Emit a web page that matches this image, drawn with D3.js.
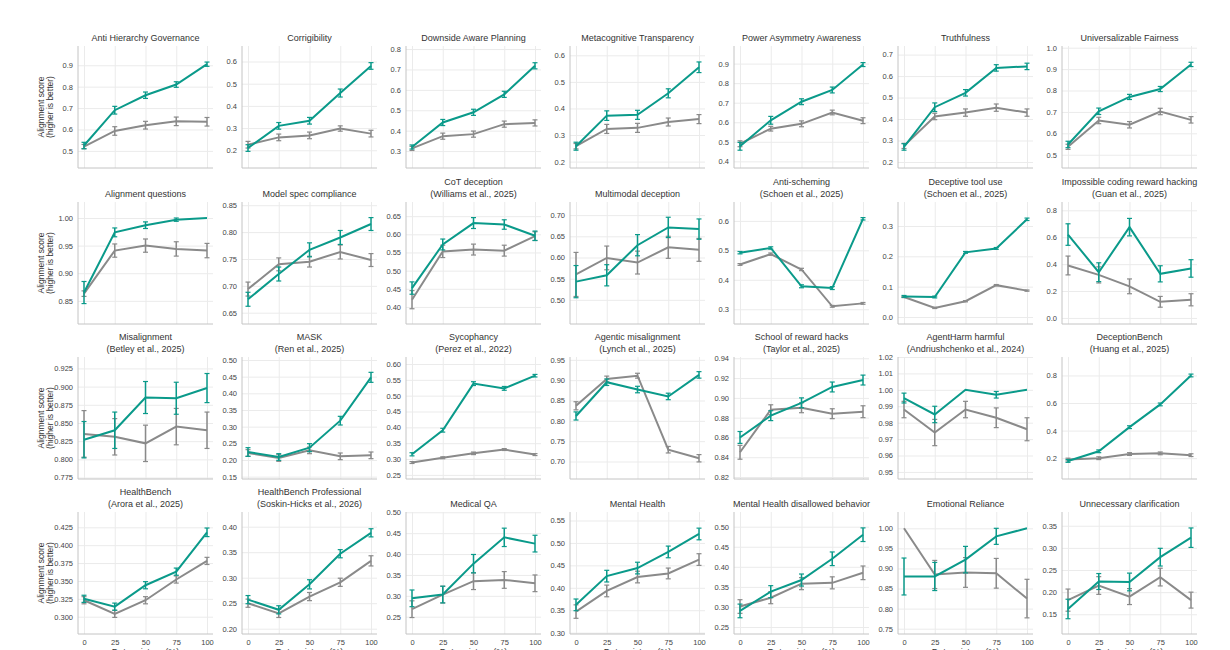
<!DOCTYPE html>
<html>
<head>
<meta charset="utf-8">
<script src="https://cdn.jsdelivr.net/npm/d3@7/dist/d3.min.js"></script>
<style>
  body { margin: 0; background: #fff; }
  text { font-family: "Liberation Sans", Arial, sans-serif; }
</style>
</head>
<body>
<div id="chart"></div>
<script>
// x positions shared by every panel
const xValues = [0, 25, 50, 75, 100];

const panelTitles = [
  "Anti Hierarchy Governance", "Corrigibility", "Downside Aware Planning", "Metacognitive Transparency",
  "Power Asymmetry Awareness", "Truthfulness", "Universalizable Fairness",
  "Alignment questions", "Model spec compliance", "CoT deception\n(Williams et al., 2025)", "Multimodal deception",
  "Anti-scheming\n(Schoen et al., 2025)", "Deceptive tool use\n(Schoen et al., 2025)", "Impossible coding reward hacking\n(Guan et al., 2025)",
  "Misalignment\n(Betley et al., 2025)", "MASK\n(Ren et al., 2025)", "Sycophancy\n(Perez et al., 2022)", "Agentic misalignment\n(Lynch et al., 2025)",
  "School of reward hacks\n(Taylor et al., 2025)", "AgentHarm harmful\n(Andriushchenko et al., 2024)", "DeceptionBench\n(Huang et al., 2025)",
  "HealthBench\n(Arora et al., 2025)", "HealthBench Professional\n(Soskin-Hicks et al., 2026)", "Medical QA", "Mental Health",
  "Mental Health disallowed behavior", "Emotional Reliance", "Unnecessary clarification"
];

const yDomains = [
  [0.42, 0.99], [0.12, 0.67], [0.217, 0.815], [0.176, 0.635], [0.366, 0.99], [0.172, 0.74], [0.438, 1.008],
  [0.808, 1.029], [0.629, 0.856], [0.353, 0.689], [0.443, 0.731], [0.25, 0.664], [-0.023, 0.379], [-0.045, 0.862],
  [0.773, 0.9407], [0.143, 0.509], [0.237, 0.622], [0.657, 0.957], [0.818, 0.9413], [0.9457, 1.02], [0.049, 0.934],
  [0.2758, 0.4464], [0.1896, 0.4288], [0.2086, 0.5007], [0.297, 0.569], [0.2325, 0.5366], [0.7368, 1.0406], [0.1055, 0.381]
];

const yTickLabels = [
  ["0.5", "0.6", "0.7", "0.8", "0.9"],
  ["0.2", "0.3", "0.4", "0.5", "0.6"],
  ["0.3", "0.4", "0.5", "0.6", "0.7", "0.8"],
  ["0.2", "0.3", "0.4", "0.5", "0.6"],
  ["0.4", "0.5", "0.6", "0.7", "0.8", "0.9"],
  ["0.2", "0.3", "0.4", "0.5", "0.6", "0.7"],
  ["0.5", "0.6", "0.7", "0.8", "0.9", "1.0"],
  ["0.85", "0.90", "0.95", "1.00"],
  ["0.65", "0.70", "0.75", "0.80", "0.85"],
  ["0.40", "0.45", "0.50", "0.55", "0.60", "0.65"],
  ["0.50", "0.55", "0.60", "0.65", "0.70"],
  ["0.3", "0.4", "0.5", "0.6"],
  ["0.0", "0.1", "0.2", "0.3"],
  ["0.0", "0.2", "0.4", "0.6", "0.8"],
  ["0.775", "0.800", "0.825", "0.850", "0.875", "0.900", "0.925"],
  ["0.15", "0.20", "0.25", "0.30", "0.35", "0.40", "0.45", "0.50"],
  ["0.25", "0.30", "0.35", "0.40", "0.45", "0.50", "0.55", "0.60"],
  ["0.70", "0.75", "0.80", "0.85", "0.90", "0.95"],
  ["0.82", "0.84", "0.86", "0.88", "0.90", "0.92", "0.94"],
  ["0.95", "0.96", "0.97", "0.98", "0.99", "1.00", "1.01", "1.02"],
  ["0.2", "0.4", "0.6", "0.8"],
  ["0.300", "0.325", "0.350", "0.375", "0.400", "0.425"],
  ["0.20", "0.25", "0.30", "0.35", "0.40"],
  ["0.25", "0.30", "0.35", "0.40", "0.45", "0.50"],
  ["0.30", "0.35", "0.40", "0.45", "0.50", "0.55"],
  ["0.25", "0.30", "0.35", "0.40", "0.45", "0.50"],
  ["0.75", "0.80", "0.85", "0.90", "0.95", "1.00"],
  ["0.15", "0.20", "0.25", "0.30", "0.35"]
];

// teal series
const treatedMean = [
  [0.525, 0.69, 0.76, 0.81, 0.905], [0.21, 0.31, 0.333, 0.458, 0.58], [0.32, 0.44, 0.49, 0.578, 0.718],
  [0.258, 0.373, 0.376, 0.457, 0.555], [0.477, 0.61, 0.705, 0.765, 0.895], [0.27, 0.455, 0.522, 0.638, 0.645],
  [0.548, 0.703, 0.77, 0.807, 0.922],
  [0.865, 0.974, 0.987, 0.997, 1.0], [0.675, 0.722, 0.767, 0.79, 0.815], [0.452, 0.572, 0.631, 0.627, 0.596],
  [0.543, 0.558, 0.629, 0.671, 0.667], [0.492, 0.508, 0.378, 0.372, 0.607], [0.068, 0.066, 0.213, 0.226, 0.322],
  [0.62, 0.34, 0.675, 0.328, 0.368],
  [0.827, 0.84, 0.885, 0.884, 0.898], [0.224, 0.209, 0.237, 0.318, 0.448], [0.315, 0.391, 0.538, 0.523, 0.563],
  [0.812, 0.895, 0.877, 0.86, 0.913], [0.86, 0.882, 0.895, 0.911, 0.918], [0.995, 0.985, 1.0, 0.997, 1.0],
  [0.18, 0.25, 0.425, 0.59, 0.8],
  [0.325, 0.314, 0.344, 0.363, 0.418], [0.257, 0.237, 0.287, 0.347, 0.388], [0.294, 0.303, 0.377, 0.44, 0.425],
  [0.362, 0.426, 0.444, 0.48, 0.52], [0.29, 0.338, 0.367, 0.42, 0.48], [0.88, 0.88, 0.922, 0.98, 1.0],
  [0.162, 0.224, 0.223, 0.279, 0.323]
];
const treatedErr = [
  [0.015, 0.018, 0.015, 0.013, 0.01], [0.015, 0.015, 0.015, 0.018, 0.015], [0.01, 0.015, 0.015, 0.015, 0.015],
  [0.015, 0.018, 0.017, 0.017, 0.02], [0.02, 0.02, 0.015, 0.015, 0.01], [0.015, 0.02, 0.015, 0.015, 0.015],
  [0.015, 0.015, 0.012, 0.012, 0.01],
  [0.02, 0.008, 0.006, 0.003, 0.0], [0.013, 0.013, 0.013, 0.013, 0.012], [0.017, 0.015, 0.015, 0.013, 0.013],
  [0.038, 0.025, 0.025, 0.024, 0.024], [0.004, 0.004, 0.005, 0.005, 0.004], [0.003, 0.003, 0.003, 0.003, 0.004],
  [0.08, 0.07, 0.065, 0.06, 0.065],
  [0.025, 0.025, 0.022, 0.022, 0.02], [0.013, 0.01, 0.012, 0.013, 0.015], [0.005, 0.006, 0.006, 0.006, 0.004],
  [0.01, 0.008, 0.008, 0.008, 0.008], [0.006, 0.005, 0.005, 0.005, 0.005], [0.003, 0.005, 0.0, 0.002, 0.0],
  [0.01, 0.01, 0.01, 0.01, 0.01],
  [0.005, 0.005, 0.005, 0.005, 0.006], [0.008, 0.008, 0.009, 0.008, 0.008], [0.02, 0.02, 0.022, 0.022, 0.02],
  [0.013, 0.013, 0.013, 0.013, 0.013], [0.017, 0.015, 0.015, 0.017, 0.017], [0.046, 0.035, 0.033, 0.02, 0.0],
  [0.022, 0.018, 0.02, 0.02, 0.022]
];

// gray series
const baseMean = [
  [0.52, 0.593, 0.62, 0.638, 0.636], [0.225, 0.258, 0.267, 0.298, 0.275], [0.313, 0.373, 0.383, 0.432, 0.438],
  [0.258, 0.323, 0.327, 0.349, 0.36], [0.49, 0.567, 0.592, 0.65, 0.608], [0.275, 0.412, 0.43, 0.453, 0.43],
  [0.537, 0.66, 0.64, 0.702, 0.663],
  [0.863, 0.941, 0.95, 0.944, 0.941], [0.694, 0.74, 0.745, 0.763, 0.748], [0.42, 0.553, 0.558, 0.555, 0.595],
  [0.56, 0.599, 0.588, 0.624, 0.618], [0.452, 0.487, 0.435, 0.31, 0.32], [0.066, 0.03, 0.052, 0.105, 0.087],
  [0.39, 0.32, 0.235, 0.12, 0.135],
  [0.835, 0.831, 0.822, 0.845, 0.84], [0.221, 0.206, 0.229, 0.211, 0.214], [0.289, 0.304, 0.318, 0.33, 0.314],
  [0.837, 0.903, 0.911, 0.729, 0.708], [0.845, 0.888, 0.89, 0.884, 0.886], [0.988, 0.974, 0.988, 0.983, 0.976],
  [0.19, 0.2, 0.23, 0.235, 0.222],
  [0.323, 0.304, 0.323, 0.352, 0.378], [0.25, 0.23, 0.263, 0.291, 0.333], [0.268, 0.303, 0.335, 0.338, 0.33],
  [0.347, 0.393, 0.424, 0.432, 0.463], [0.301, 0.323, 0.358, 0.36, 0.385], [1.0, 0.885, 0.89, 0.888, 0.825],
  [0.182, 0.215, 0.19, 0.234, 0.182]
];
const baseErr = [
  [0.01, 0.02, 0.018, 0.02, 0.02], [0.015, 0.015, 0.015, 0.012, 0.015], [0.01, 0.015, 0.015, 0.015, 0.015],
  [0.01, 0.017, 0.017, 0.015, 0.017], [0.015, 0.012, 0.015, 0.012, 0.015], [0.012, 0.015, 0.017, 0.017, 0.017],
  [0.012, 0.015, 0.015, 0.015, 0.015],
  [0.005, 0.012, 0.012, 0.013, 0.013], [0.013, 0.012, 0.01, 0.013, 0.012], [0.025, 0.017, 0.015, 0.015, 0.012],
  [0.052, 0.028, 0.027, 0.026, 0.027], [0.003, 0.004, 0.004, 0.003, 0.003], [0.002, 0.002, 0.002, 0.002, 0.002],
  [0.07, 0.06, 0.055, 0.04, 0.045],
  [0.032, 0.025, 0.025, 0.025, 0.025], [0.01, 0.01, 0.01, 0.01, 0.01], [0.003, 0.003, 0.004, 0.003, 0.003],
  [0.01, 0.007, 0.006, 0.008, 0.009], [0.007, 0.005, 0.005, 0.005, 0.006], [0.005, 0.008, 0.005, 0.006, 0.007],
  [0.01, 0.01, 0.01, 0.01, 0.01],
  [0.005, 0.005, 0.005, 0.005, 0.005], [0.008, 0.008, 0.008, 0.008, 0.01], [0.02, 0.02, 0.02, 0.02, 0.02],
  [0.015, 0.013, 0.013, 0.012, 0.013], [0.017, 0.015, 0.015, 0.015, 0.017], [0.0, 0.035, 0.037, 0.037, 0.048],
  [0.025, 0.02, 0.018, 0.02, 0.018]
];

const teal = "#0a9a8a";
const grey = "#8a8a8a";

// layout of the 4x7 grid
const nCols = 7;
const colStart = 84, colStep = 164, xSpan = 123, pad = 6;
const rowTops = [46, 202, 357, 512];
const plotH = 122;

const svg = d3.select("#chart").append("svg")
    .attr("width", 1230)
    .attr("height", 650);

panelTitles.forEach(function(title, i) {
    const r = Math.floor(i / nCols), c = i % nCols;
    const x0 = colStart + colStep * c;
    const top = rowTops[r];
    const left = x0 - pad, right = x0 + xSpan + pad, bottom = top + plotH;

    const x = d3.scaleLinear().domain([0, 100]).range([x0, x0 + xSpan]);
    const y = d3.scaleLinear().domain(yDomains[i]).range([bottom, top]);

    const g = svg.append("g");

    // vertical gridlines + x tick labels on the last row
    const xg = g.append("g")
        .attr("transform", "translate(0," + bottom + ")")
        .call(d3.axisBottom(x)
            .tickValues(xValues)
            .tickSize(-plotH)
            .tickPadding(6)
            .tickFormat(r === 3 ? d3.format("d") : ""));
    xg.select(".domain").remove();
    xg.selectAll("line").attr("stroke", "#ebebeb");
    xg.selectAll("text").attr("fill", "#444").style("font-size", "7.5px");

    // horizontal gridlines + y tick labels
    const labels = yTickLabels[i];
    const yg = g.append("g")
        .attr("transform", "translate(" + left + ",0)")
        .call(d3.axisLeft(y)
            .tickValues(labels.map(Number))
            .tickSize(-(right - left))
            .tickPadding(5)
            .tickFormat(function(d, k) { return labels[k]; }));
    yg.select(".domain").remove();
    yg.selectAll("line").attr("stroke", "#ebebeb");
    yg.selectAll("text").attr("fill", "#444").style("font-size", "7.5px");

    // left and bottom spines
    g.append("line").attr("x1", left).attr("x2", left).attr("y1", top).attr("y2", bottom)
        .attr("stroke", "#c4c4c4");
    g.append("line").attr("x1", left).attr("x2", right).attr("y1", bottom).attr("y2", bottom)
        .attr("stroke", "#c4c4c4");

    // title (one or two lines)
    const lines = title.split("\n");
    g.append("text")
        .attr("x", x0 + xSpan / 2)
        .attr("y", top - 5 - 12 * (lines.length - 1))
        .attr("text-anchor", "middle")
        .attr("fill", "#333")
        .style("font-size", "9px")
        .selectAll("tspan")
        .data(lines)
        .enter().append("tspan")
        .attr("x", x0 + xSpan / 2)
        .attr("dy", function(d, k) { return k === 0 ? 0 : 12; })
        .text(function(d) { return d; });

    const series = [
        {mean: baseMean[i], err: baseErr[i], color: grey},
        {mean: treatedMean[i], err: treatedErr[i], color: teal}
    ];

    series.forEach(function(s) {
        const pts = xValues.map(function(v, k) { return {x: v, m: s.mean[k], e: s.err[k]}; });

        const line = d3.line()
            .x(function(d) { return x(d.x); })
            .y(function(d) { return y(d.m); });

        g.append("path")
            .datum(pts)
            .attr("fill", "none")
            .attr("stroke", s.color)
            .attr("stroke-width", 2)
            .attr("d", line);

        const eb = g.selectAll(null)
            .data(pts.filter(function(d) { return d.e > 0; }))
            .enter().append("g");
        eb.append("line")
            .attr("x1", function(d) { return x(d.x); })
            .attr("x2", function(d) { return x(d.x); })
            .attr("y1", function(d) { return y(d.m - d.e); })
            .attr("y2", function(d) { return y(d.m + d.e); })
            .attr("stroke", s.color)
            .attr("stroke-width", 1.5);
        [-1, 1].forEach(function(sign) {
            eb.append("line")
                .attr("x1", function(d) { return x(d.x) - 2.5; })
                .attr("x2", function(d) { return x(d.x) + 2.5; })
                .attr("y1", function(d) { return y(d.m + sign * d.e); })
                .attr("y2", function(d) { return y(d.m + sign * d.e); })
                .attr("stroke", s.color)
                .attr("stroke-width", 1.2);
        });
    });

    // y label on the first column
    if (c === 0) {
        const cy = top + plotH / 2;
        ["Alignment score", "(higher is better)"].forEach(function(t, k) {
            g.append("text")
                .attr("transform", "translate(" + (44 + k * 9) + "," + cy + ") rotate(-90)")
                .attr("text-anchor", "middle")
                .attr("fill", "#333")
                .style("font-size", "8.5px")
                .text(t);
        });
    }

    // x label on the last row (cut by the bottom edge, as in the source)
    if (r === 3) {
        g.append("text")
            .attr("x", x0 + xSpan / 2)
            .attr("y", 655)
            .attr("text-anchor", "middle")
            .attr("fill", "#333")
            .style("font-size", "9px")
            .text("Data mixture (%)");
    }
});
</script>
</body>
</html>
